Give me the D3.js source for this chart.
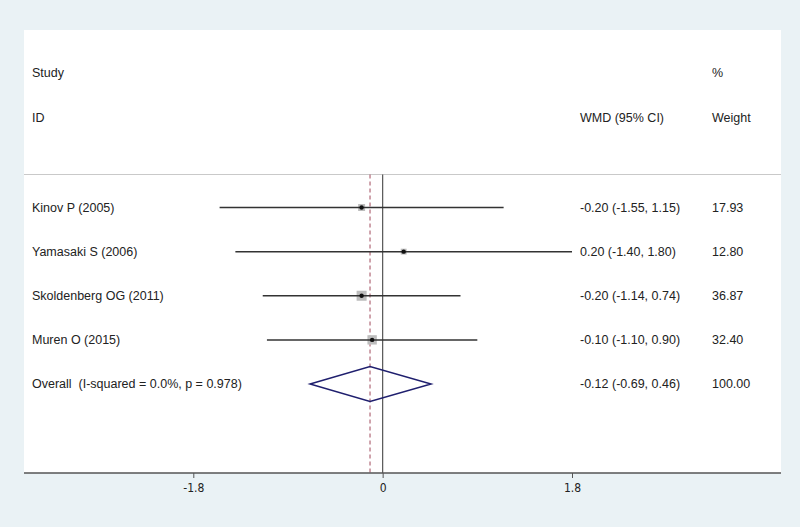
<!DOCTYPE html>
<html>
<head>
<meta charset="utf-8">
<script src="https://cdn.jsdelivr.net/npm/d3@7"></script>
<style>
  body { margin: 0; background: #eaf2f5; }
  svg { display: block; }
</style>
</head>
<body>
<svg width="800" height="527"></svg>
<script>
// data
var studies = ["Kinov P (2005)", "Yamasaki S (2006)", "Skoldenberg OG (2011)", "Muren O (2015)"];
var estimates = [-0.20, 0.20, -0.20, -0.10];
var lowerCI = [-1.55, -1.40, -1.14, -1.10];
var upperCI = [1.15, 1.80, 0.74, 0.90];
var weights = [17.93, 12.80, 36.87, 32.40];
var ciLabels = ["-0.20 (-1.55, 1.15)", "0.20 (-1.40, 1.80)", "-0.20 (-1.14, 0.74)", "-0.10 (-1.10, 0.90)"];
var weightLabels = ["17.93", "12.80", "36.87", "32.40"];
var overall = { label: "Overall  (I-squared = 0.0%, p = 0.978)", est: -0.12, lo: -0.69, hi: 0.46, ci: "-0.12 (-0.69, 0.46)", weight: "100.00" };
var tickValues = [-1.8, 0, 1.8];
var tickLabels = ["-1.8", "0", "1.8"];

let fontFam = "'Liberation Sans', Arial, sans-serif";
let fontSize = 12.5;
let panel = { left: 24, right: 781, top: 30, bottom: 473 };
let headerLine = 174.5;

var svg = d3.select("svg");

var x = d3.scaleLinear([-1.8, 1.8], [193.3, 572]);
var rows = d3.range(studies.length + 1);
var y = d3.scalePoint(rows, [207.5, 384]);
var boxSize = d3.scaleSqrt([0, 36.87], [0, 10]);

// white plot region
svg.append("rect")
    .attr("x", panel.left)
    .attr("y", panel.top)
    .attr("width", panel.right - panel.left)
    .attr("height", panel.bottom - panel.top)
    .attr("fill", "#ffffff");

// header line
svg.append("line")
    .attr("x1", panel.left).attr("x2", panel.right)
    .attr("y1", headerLine).attr("y2", headerLine)
    .attr("stroke", "#c9c9c9").attr("stroke-width", 1);

// header text
var headers = [
    { t: "Study", x: 32, y: 73 },
    { t: "ID", x: 32, y: 118 },
    { t: "%", x: 712, y: 73 },
    { t: "WMD (95% CI)", x: 580, y: 118 },
    { t: "Weight", x: 712, y: 118 }
];
svg.append("g")
    .selectAll("text")
    .data(headers)
    .enter()
        .append("text")
        .attr("x", function(d) { return d.x; })
        .attr("y", function(d) { return d.y; })
        .attr("dy", "0.35em")
        .attr("font-family", fontFam)
        .attr("font-size", fontSize)
        .attr("fill", "#222")
        .text(function(d) { return d.t; });

// null line at 0
svg.append("line")
    .attr("x1", x(0)).attr("x2", x(0))
    .attr("y1", headerLine).attr("y2", panel.bottom)
    .attr("stroke", "#555").attr("stroke-width", 1.2);

// overall estimate dashed line
svg.append("line")
    .attr("x1", x(overall.est)).attr("x2", x(overall.est))
    .attr("y1", headerLine).attr("y2", panel.bottom)
    .attr("stroke", "#a04a5c").attr("stroke-width", 1)
    .attr("stroke-dasharray", "4,3");

var studyData = studies.map(function(s, i) {
    return { name: s, est: estimates[i], lo: lowerCI[i], hi: upperCI[i], w: weights[i], ci: ciLabels[i], wl: weightLabels[i], row: i };
});

var g = svg.append("g")
    .selectAll("g")
    .data(studyData)
    .enter()
        .append("g");

// weight boxes
g.append("rect")
    .attr("x", function(d) { return x(d.est) - boxSize(d.w) / 2; })
    .attr("y", function(d) { return y(d.row) - boxSize(d.w) / 2; })
    .attr("width", function(d) { return boxSize(d.w); })
    .attr("height", function(d) { return boxSize(d.w); })
    .attr("fill", "#bdbdbd");

// CI lines
g.append("line")
    .attr("x1", function(d) { return x(d.lo); })
    .attr("x2", function(d) { return x(d.hi); })
    .attr("y1", function(d) { return y(d.row); })
    .attr("y2", function(d) { return y(d.row); })
    .attr("stroke", "#333").attr("stroke-width", 1.5);

// point estimates
g.append("circle")
    .attr("cx", function(d) { return x(d.est); })
    .attr("cy", function(d) { return y(d.row); })
    .attr("r", 2.2)
    .attr("fill", "#111");

g.append("text")
    .attr("x", 32)
    .attr("y", function(d) { return y(d.row); })
    .attr("dy", "0.35em")
    .attr("font-family", fontFam).attr("font-size", fontSize).attr("fill", "#222")
    .text(function(d) { return d.name; });

g.append("text")
    .attr("x", 580)
    .attr("y", function(d) { return y(d.row); })
    .attr("dy", "0.35em")
    .attr("font-family", fontFam).attr("font-size", fontSize).attr("fill", "#222")
    .text(function(d) { return d.ci; });

g.append("text")
    .attr("x", 712)
    .attr("y", function(d) { return y(d.row); })
    .attr("dy", "0.35em")
    .attr("font-family", fontFam).attr("font-size", fontSize).attr("fill", "#222")
    .text(function(d) { return d.wl; });

// overall diamond
var oy = y(studies.length);
var diamondHalf = 17.5;
svg.append("path")
    .attr("d", "M" + x(overall.lo) + "," + oy +
               "L" + x(overall.est) + "," + (oy - diamondHalf) +
               "L" + x(overall.hi) + "," + oy +
               "L" + x(overall.est) + "," + (oy + diamondHalf) + "Z")
    .attr("fill", "none")
    .attr("stroke", "#1f1f6e")
    .attr("stroke-width", 1.5);

var overallText = [
    { t: overall.label, x: 32 },
    { t: overall.ci, x: 580 },
    { t: overall.weight, x: 712 }
];
svg.append("g")
    .selectAll("text")
    .data(overallText)
    .enter()
        .append("text")
        .attr("x", function(d) { return d.x; })
        .attr("y", oy)
        .attr("dy", "0.35em")
        .attr("font-family", fontFam).attr("font-size", fontSize).attr("fill", "#222")
        .attr("xml:space", "preserve")
        .style("white-space", "pre")
        .text(function(d) { return d.t; });

// bottom axis
var axis = d3.axisBottom(x)
    .tickValues(tickValues)
    .tickSize(5)
    .tickSizeOuter(0)
    .tickFormat(function(d, i) { return tickLabels[i]; });

var axisG = svg.append("g")
    .attr("transform", "translate(0," + panel.bottom + ")")
    .call(axis);

axisG.select(".domain").remove();
axisG.append("line")
    .attr("x1", panel.left).attr("x2", panel.right)
    .attr("stroke", "#555").attr("stroke-width", 1.5);
axisG.selectAll(".tick line").attr("stroke", "#555");
axisG.selectAll(".tick text")
    .attr("y", 10)
    .attr("font-family", "'Liberation Sans Narrow', 'DejaVu Sans Condensed', Arial, sans-serif")
    .attr("font-size", 12)
    .attr("fill", "#222");
</script>
</body>
</html>
